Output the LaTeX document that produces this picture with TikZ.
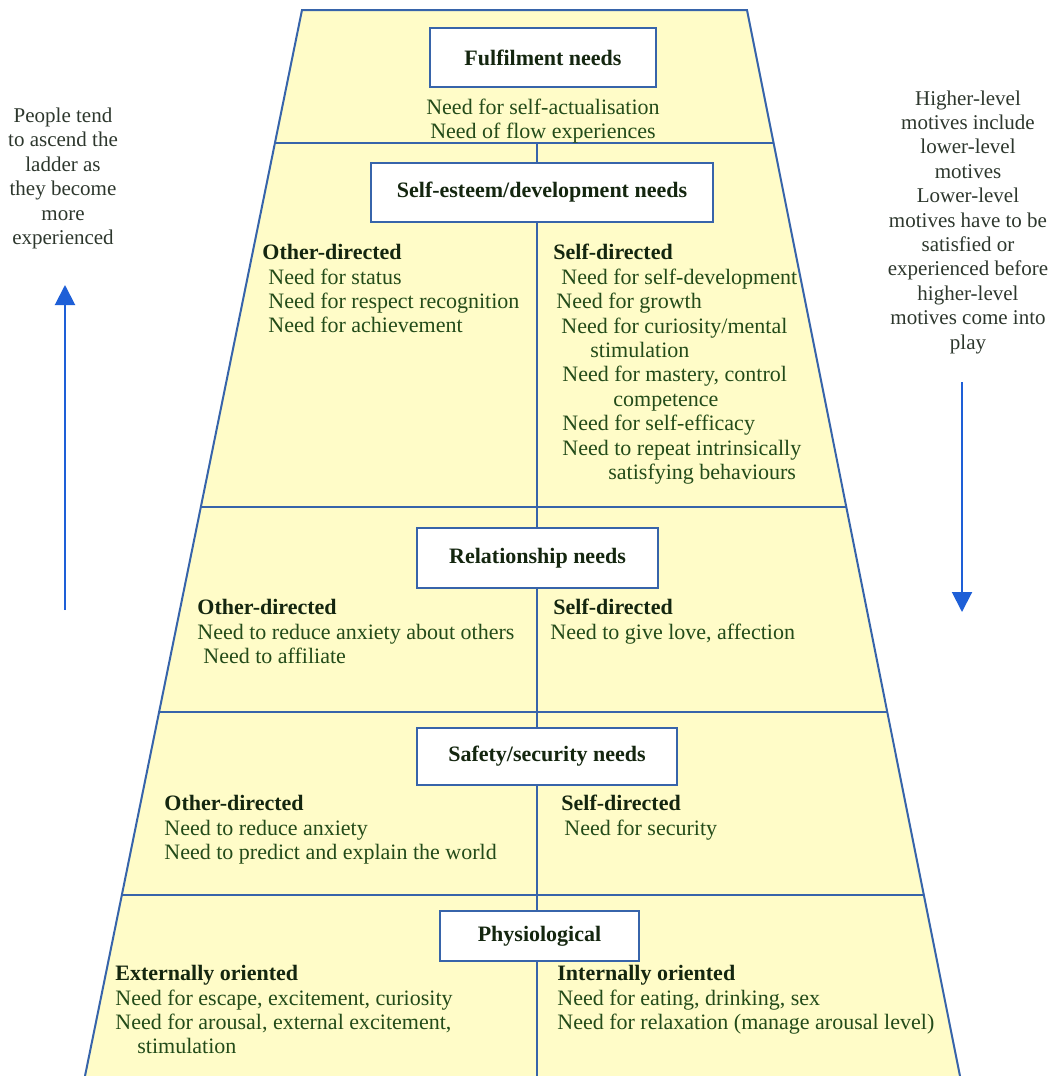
\documentclass[tikz,border=0pt]{standalone}
\usepackage{fontspec}
\setmainfont{Liberation Serif}
\usetikzlibrary{arrows.meta,positioning,backgrounds}

\definecolor{pyrfill}{RGB}{255,252,200}
\definecolor{pyrline}{RGB}{55,100,170}
\definecolor{itemgreen}{RGB}{35,75,25}
\definecolor{headdark}{RGB}{20,38,15}
\definecolor{notegrey}{RGB}{45,55,45}
\definecolor{arrowblue}{RGB}{30,95,215}

\newcommand{\grouphead}[1]{{\bfseries\color{headdark}#1}}

\begin{document}
\begin{tikzpicture}[
    x=0.5pt, y=-0.5pt,
    node distance=5pt and 4mm,
    every node/.style={font=\fontsize{11}{12.2}\selectfont},
    levelbox/.style={draw=pyrline, line width=1.2pt, fill=white, minimum height=29.5pt, inner sep=0pt, font=\fontsize{11}{12.2}\selectfont\bfseries, text=headdark},
    group/.style={anchor=north west, align=left, inner sep=0pt, text=itemgreen},
    note/.style={align=center, inner sep=0pt, text=notegrey, font=\fontsize{10.5}{12.2}\selectfont},
    climb/.style={-{Triangle[width=10pt,length=10pt]}, line width=1pt, draw=arrowblue, fill=arrowblue}
]
\useasboundingbox (0,0) rectangle (1058,1076);

% pyramid corners
\coordinate (tl) at (302,10);
\coordinate (tr) at (747,10);
\coordinate (br) at (960,1076);
\coordinate (bl) at (85,1076);
\coordinate (spinetop) at (537,143);
\coordinate (spinebot) at (537,1076);

% level boxes
\node[levelbox, minimum width=113pt] (fulfil) at (543,57.5) {Fulfilment needs};
\node[levelbox, minimum width=171pt] (esteem) at (542,192.5) {Self-esteem/development needs};
\node[levelbox, minimum width=120.5pt, minimum height=30pt] (relation) at (537.5,558) {Relationship needs};
\node[levelbox, minimum width=130pt, minimum height=28.5pt] (safety) at (547,756.5) {Safety/security needs};
\node[levelbox, minimum width=99.5pt, minimum height=25pt] (physio) at (539.5,936) {Physiological};

% text of each level
\node[align=center, inner sep=0pt, text=itemgreen, below=5pt of fulfil] (fulfil_t) {Need for self-actualisation\\Need of flow experiences};

\node[group] (esteem_l) at (262,244) {\grouphead{Other-directed}\\
  \hspace*{3pt}Need for status\\
  \hspace*{3pt}Need for respect recognition\\
  \hspace*{3pt}Need for achievement};
\node[group] (esteem_r) at (553,244) {\grouphead{Self-directed}\\
  \hspace*{4pt}Need for self-development\\
  \hspace*{1.5pt}Need for growth\\
  \hspace*{4pt}Need for curiosity/mental\\
  \hspace*{18.5pt}stimulation\\
  \hspace*{4.5pt}Need for mastery, control\\
  \hspace*{30pt}competence\\
  \hspace*{4.5pt}Need for self-efficacy\\
  \hspace*{4.5pt}Need to repeat intrinsically\\
  \hspace*{27.5pt}satisfying behaviours};

\node[group] (relation_l) at (197,599) {\grouphead{Other-directed}\\
  Need to reduce anxiety about others\\
  \hspace*{3pt}Need to affiliate};
\node[group] (relation_r) at (550,599) {\hspace*{1.5pt}\grouphead{Self-directed}\\
  Need to give love, affection};

\node[group] (safety_l) at (164,795) {\grouphead{Other-directed}\\
  Need to reduce anxiety\\
  Need to predict and explain the world};
\node[group] (safety_r) at (561,795) {\grouphead{Self-directed}\\
  \hspace*{1.5pt}Need for security};

\node[group] (physio_l) at (115,965) {\grouphead{Externally oriented}\\
  Need for escape, excitement, curiosity\\
  Need for arousal, external excitement,\\
  \hspace*{11pt}stimulation};
\node[group] (physio_r) at (557,965) {\grouphead{Internally oriented}\\
  Need for eating, drinking, sex\\
  Need for relaxation (manage arousal level)};

% side notes and arrows
\node[note] (ascend) at (63,178.5) {People tend\\to ascend the\\ladder as\\they become\\more\\experienced};
\node[note] (include) at (968,222) {Higher-level\\motives include\\lower-level\\motives\\Lower-level\\motives have to be\\satisfied or\\experienced before\\higher-level\\motives come into\\play};

\coordinate (up_from) at (65,610);
\coordinate (up_to) at (65,285);
\coordinate (down_from) at (962,382);
\coordinate (down_to) at (962,612);
\draw[climb] (up_from) -- (up_to);
\draw[climb] (down_from) -- (down_to);

\begin{scope}[on background layer]
  \fill[pyrfill] (tl) -- (tr) -- (br) -- (bl) -- cycle;
  \begin{scope}
    \clip (tl) -- (tr) -- (br) -- (bl) -- cycle;
    \foreach \ly in {143,507,712,895}
      \draw[pyrline, line width=1pt] (0,\ly) -- (1058,\ly);
  \end{scope}
  \draw[pyrline, line width=1pt] (spinetop) -- (spinebot);
  \draw[pyrline, line width=1pt] (bl) -- (tl) -- (tr) -- (br);
\end{scope}
\end{tikzpicture}
\end{document}
